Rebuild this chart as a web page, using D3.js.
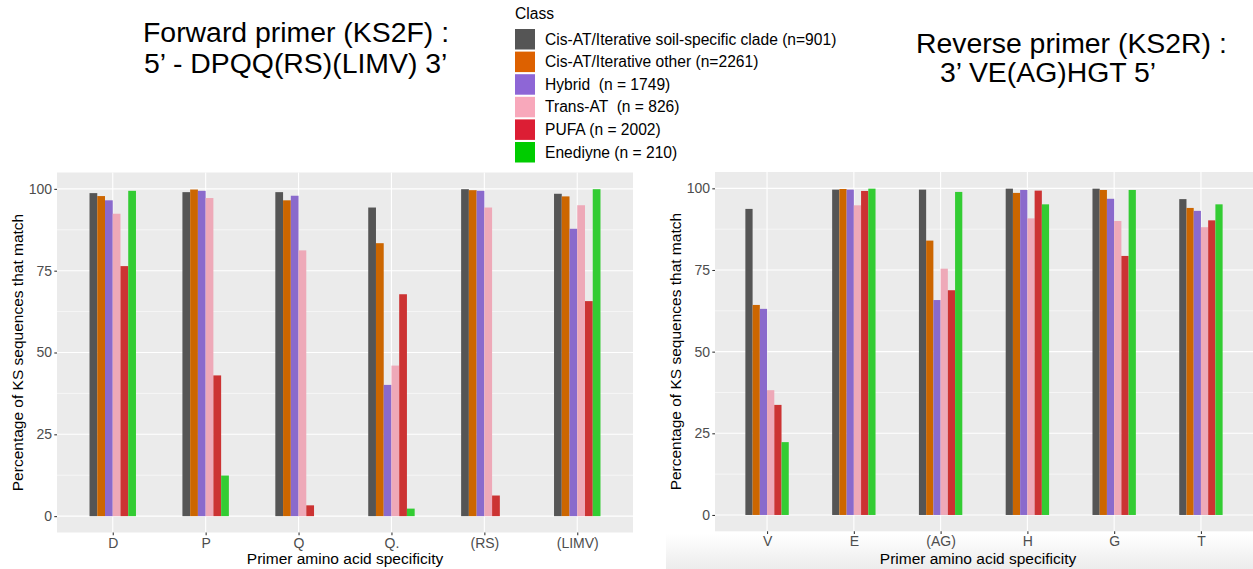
<!DOCTYPE html>
<html>
<head>
<meta charset="utf-8">
<script src="https://cdn.jsdelivr.net/npm/d3@7"></script>
<style>
	body { margin: 0; background: #fff; }
	svg { display: block; font-family: "Liberation Sans", Arial, sans-serif; }
	text { white-space: pre; }
</style>
</head>
<body>
<svg id="chart" width="1253" height="569"></svg>
<script>
"use strict";

// legend classes, in drawing order
var classes = [
	"Cis-AT/Iterative soil-specific clade (n=901)",
	"Cis-AT/Iterative other (n=2261)",
	"Hybrid  (n = 1749)",
	"Trans-AT  (n = 826)",
	"PUFA (n = 2002)",
	"Enediyne (n = 210)"
];
var barColors = ["#555555", "#CC6600", "#8A6ACC", "#EEA9B8", "#CC3333", "#33CC33"];
var keyColors = ["#555555", "#DD6100", "#8E66D6", "#F8A8BB", "#DC1E34", "#00CC00"];

var fwdCategories = ["D", "P", "Q", "Q.", "(RS)", "(LIMV)"];
var revCategories = ["V", "E", "(AG)", "H", "G", "T"];
var yTicks = [0, 25, 50, 75, 100];
var yMinor = [12.5, 37.5, 62.5, 87.5];

// one row per class, one value per category
var fwdValues = [
	[98.7, 99.0, 99.0, 94.3, 99.9, 98.5],
	[97.8, 99.8, 96.5, 83.4, 99.6, 97.7],
	[96.5, 99.4, 97.9, 40.1, 99.4, 87.8],
	[92.4, 97.2, 81.2, 46.0, 94.3, 95.0],
	[76.4, 43.0, 3.3, 67.8, 6.3, 65.7],
	[99.4, 12.4, 0, 2.3, 0, 99.9]
];
var revValues = [
	[93.7, 99.6, 99.6, 99.9, 99.9, 96.7],
	[64.3, 99.8, 84.0, 98.6, 99.5, 94.0],
	[63.1, 99.6, 65.8, 99.5, 96.8, 93.1],
	[38.2, 94.8, 75.4, 90.8, 90.0, 88.1],
	[33.7, 99.2, 68.8, 99.3, 79.3, 90.2],
	[22.3, 99.9, 98.9, 95.1, 99.5, 95.1]
];

var svg = d3.select('#chart');

//light shading under the right hand panel (screenshot edge)
var defs = svg.append('defs');
var grad = defs.append('linearGradient')
	.attr('id', 'shade')
	.attr('x1', 0).attr('y1', 0).attr('x2', 0).attr('y2', 1);
grad.append('stop').attr('offset', '0%').attr('stop-color', '#ffffff');
grad.append('stop').attr('offset', '100%').attr('stop-color', '#ececec');
svg.append('rect')
	.attr('x', 666).attr('y', 534)
	.attr('width', 587).attr('height', 35)
	.style('fill', 'url(#shade)');

function drawPanel(p) {

	var g = svg.append('g');

	var x = d3.scalePoint()
		.domain(p.categories)
		.range([p.left, p.right])
		.padding(0.6);

	var step = x.step();

	var xInner = d3.scaleBand()
		.domain(d3.range(classes.length))
		.range([-step * 0.25, step * 0.25]);

	var y = d3.scaleLinear()
		.domain([-5, 105])
		.range([p.bottom, p.top]);

	//panel background
	g.append('rect')
		.attr('x', p.left)
		.attr('y', p.top)
		.attr('width', p.right - p.left)
		.attr('height', p.bottom - p.top)
		.style('fill', '#EBEBEB');

	//grid
	g.selectAll('.minor').data(yMinor).enter().append('line')
		.attr('x1', p.left).attr('x2', p.right)
		.attr('y1', function(d) { return y(d); })
		.attr('y2', function(d) { return y(d); })
		.style('stroke', '#fff').style('stroke-width', 0.55);

	g.selectAll('.major').data(yTicks).enter().append('line')
		.attr('x1', p.left).attr('x2', p.right)
		.attr('y1', function(d) { return y(d); })
		.attr('y2', function(d) { return y(d); })
		.style('stroke', '#fff').style('stroke-width', 1.1);

	g.selectAll('.vgrid').data(p.categories).enter().append('line')
		.attr('y1', p.top).attr('y2', p.bottom)
		.attr('x1', function(d) { return x(d); })
		.attr('x2', function(d) { return x(d); })
		.style('stroke', '#fff').style('stroke-width', 1.1);

	//bars, one group per class
	p.values.forEach(function(row, ci) {
		g.selectAll('.bar' + ci).data(row).enter().append('rect')
			.attr('x', function(d, i) { return x(p.categories[i]) + xInner(ci); })
			.attr('width', xInner.bandwidth())
			.attr('y', function(d) { return y(d); })
			.attr('height', function(d) { return y(0) - y(d); })
			.style('fill', barColors[ci]);
	});

	//axes
	var ay = g.append('g')
		.attr('transform', 'translate(' + p.left + ',0)')
		.call(d3.axisLeft(y).tickValues(yTicks).tickSize(2.7).tickPadding(2.2));
	var ax = g.append('g')
		.attr('transform', 'translate(0,' + p.bottom + ')')
		.call(d3.axisBottom(x).tickSize(2.7).tickPadding(2.4));

	[ay, ax].forEach(function(a) {
		a.select('.domain').remove();
		a.attr('font-family', null).attr('font-size', null);
		a.selectAll('line').style('stroke', '#333333').style('stroke-width', 1.07);
		a.selectAll('text')
			.style('fill', '#4D4D4D')
			.style('font-size', '14px');
	});

	//axis titles
	g.append('text')
		.attr('x', (p.left + p.right) / 2 + p.xTitleShift)
		.attr('y', 564)
		.attr('text-anchor', 'middle')
		.style('font-size', '15.5px')
		.text('Primer amino acid specificity');

	g.append('text')
		.attr('transform', 'translate(' + p.titleX + ',' + ((p.top + p.bottom) / 2) + ') rotate(-90)')
		.attr('text-anchor', 'middle')
		.style('font-size', '15.5px')
		.text('Percentage of KS sequences that match');
}

drawPanel({
	left: 57, right: 633, top: 172.5, bottom: 532.5,
	categories: fwdCategories, values: fwdValues, titleX: 23, xTitleShift: 0
});

drawPanel({
	left: 715, right: 1253, top: 172, bottom: 531.3,
	categories: revCategories, values: revValues, titleX: 681, xTitleShift: -6
});

//headings
var headings = [
	{ text: 'Forward primer (KS2F) :', x: 143, y: 42 },
	{ text: '5\u2019 - DPQQ(RS)(LIMV) 3\u2019', x: 144, y: 73 },
	{ text: 'Reverse primer (KS2R) :', x: 916, y: 53 },
	{ text: '3\u2019 VE(AG)HGT 5\u2019', x: 940, y: 82 }
];
svg.selectAll('.heading').data(headings).enter().append('text')
	.attr('x', function(d) { return d.x; })
	.attr('y', function(d) { return d.y; })
	.style('font-size', '28.4px')
	.style('fill', '#000')
	.text(function(d) { return d.text; });

//legend
var legend = svg.append('g').attr('transform', 'translate(515,0)');
legend.append('text')
	.attr('x', 0).attr('y', 18.5)
	.style('font-size', '15.6px')
	.text('Class');

var items = legend.selectAll('.item').data(classes).enter().append('g')
	.attr('transform', function(d, i) { return 'translate(0,' + (29 + i * 22.6) + ')'; });
items.append('rect')
	.attr('width', 20).attr('height', 20.5)
	.style('fill', function(d, i) { return keyColors[i]; });
items.append('text')
	.attr('x', 30).attr('y', 15.7)
	.style('font-size', '15.6px')
	.text(function(d) { return d; });
</script>
</body>
</html>
